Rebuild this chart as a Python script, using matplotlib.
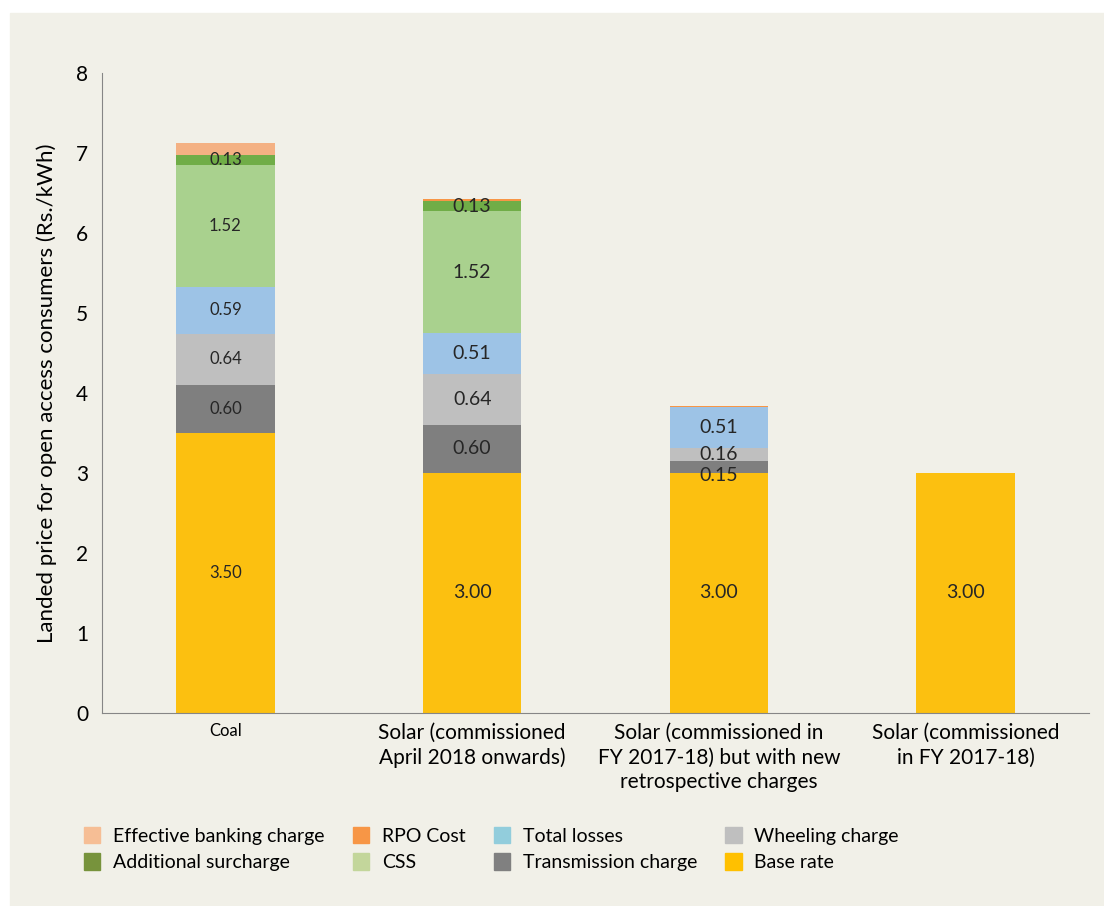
import numpy as np
import matplotlib.pyplot as plt
from matplotlib.patches import Patch, Rectangle

plt.rcParams['font.family'] = ['Lato', 'DejaVu Sans']

# DATA
categories = ['Coal',
              'Solar (commissioned\nApril 2018 onwards)',
              'Solar (commissioned in\nFY 2017-18) but with new\nretrospective charges',
              'Solar (commissioned\nin FY 2017-18)']
base_rate = [3.50, 3.00, 3.00, 3.00]
transmission = [0.60, 0.60, 0.15, 0.00]
wheeling = [0.64, 0.64, 0.16, 0.00]
total_losses = [0.59, 0.51, 0.51, 0.00]
css = [1.52, 1.52, 0.00, 0.00]
add_surcharge = [0.13, 0.13, 0.00, 0.00]
rpo_cost = [0.00, 0.03, 0.02, 0.00]
banking = [0.15, 0.00, 0.00, 0.00]

series = [
    ('Base rate', base_rate, '#FCC010', '#FFC000', True),
    ('Transmission charge', transmission, '#7F7F7F', '#808080', True),
    ('Wheeling charge', wheeling, '#BFBFBF', '#BFBFBF', True),
    ('Total losses', total_losses, '#9DC3E6', '#92CDDC', True),
    ('CSS', css, '#A9D18E', '#C3D69B', True),
    ('Additional surcharge', add_surcharge, '#70AD47', '#77933C', True),
    ('RPO Cost', rpo_cost, '#F79646', '#F79646', False),
    ('Effective banking charge', banking, '#F4B183', '#F6BE95', False),
]

fig = plt.figure(figsize=(11.04, 9.06), dpi=100, facecolor='white')
fig.patches.append(Rectangle((10 / 1104, 0), 1, (906 - 13) / 906,
                             transform=fig.transFigure, color='#F1F0E8', zorder=-10))
ax = fig.add_axes([102 / 1104, (906 - 713) / 906, 987 / 1104, 640 / 906])
ax.set_facecolor('none')

x = np.arange(len(categories))
bottom = np.zeros(len(categories))
for name, vals, col, lcol, show in series:
    vals = np.array(vals)
    bars = ax.bar(x, vals, width=0.40, bottom=bottom, color=col, linewidth=0)
    if show:
        labels = ['%.2f' % v if v > 0 else '' for v in vals]
        texts = ax.bar_label(bars, labels=labels, label_type='center',
                             fontsize=14, color='#262626')
        # coal labels are set smaller
        texts[0].set_fontsize(12)
        if name == 'Transmission charge':
            texts[2].xyann = (0, -6)  # pushed down like the original
    bottom += vals

ax.set_xlim(-0.5, 3.5)
ax.set_ylim(0, 8)
ax.set_yticks(range(0, 9))
ax.tick_params(axis='both', length=0)
ax.tick_params(axis='y', labelsize=15, pad=10)
ax.tick_params(axis='x', labelsize=15, pad=7)
ax.set_xticks(x)
ax.set_xticklabels(categories, linespacing=1.3)
ax.get_xticklabels()[0].set_fontsize(12)
for s in ['top', 'right']:
    ax.spines[s].set_visible(False)
for s in ['left', 'bottom']:
    ax.spines[s].set_color('#868686')
ax.set_ylabel('Landed price for open access consumers (Rs./kWh)', fontsize=16, labelpad=14)

# legend, row-major order like the original
order = ['Effective banking charge', 'Additional surcharge', 'RPO Cost', 'CSS',
         'Total losses', 'Transmission charge', 'Wheeling charge', 'Base rate']
lcols = {name: lcol for name, vals, col, lcol, show in series}
handles = [Patch(color=lcols[n], label=n) for n in order]
fig.legend(handles=handles, ncol=4, loc='upper left', bbox_to_anchor=(0.060, 0.1066),
           frameon=False, fontsize=14, handlelength=0.85, handleheight=0.9,
           handletextpad=0.65, columnspacing=1.45, labelspacing=0.45)

fig.savefig('out.png', dpi=100, facecolor=fig.get_facecolor())
